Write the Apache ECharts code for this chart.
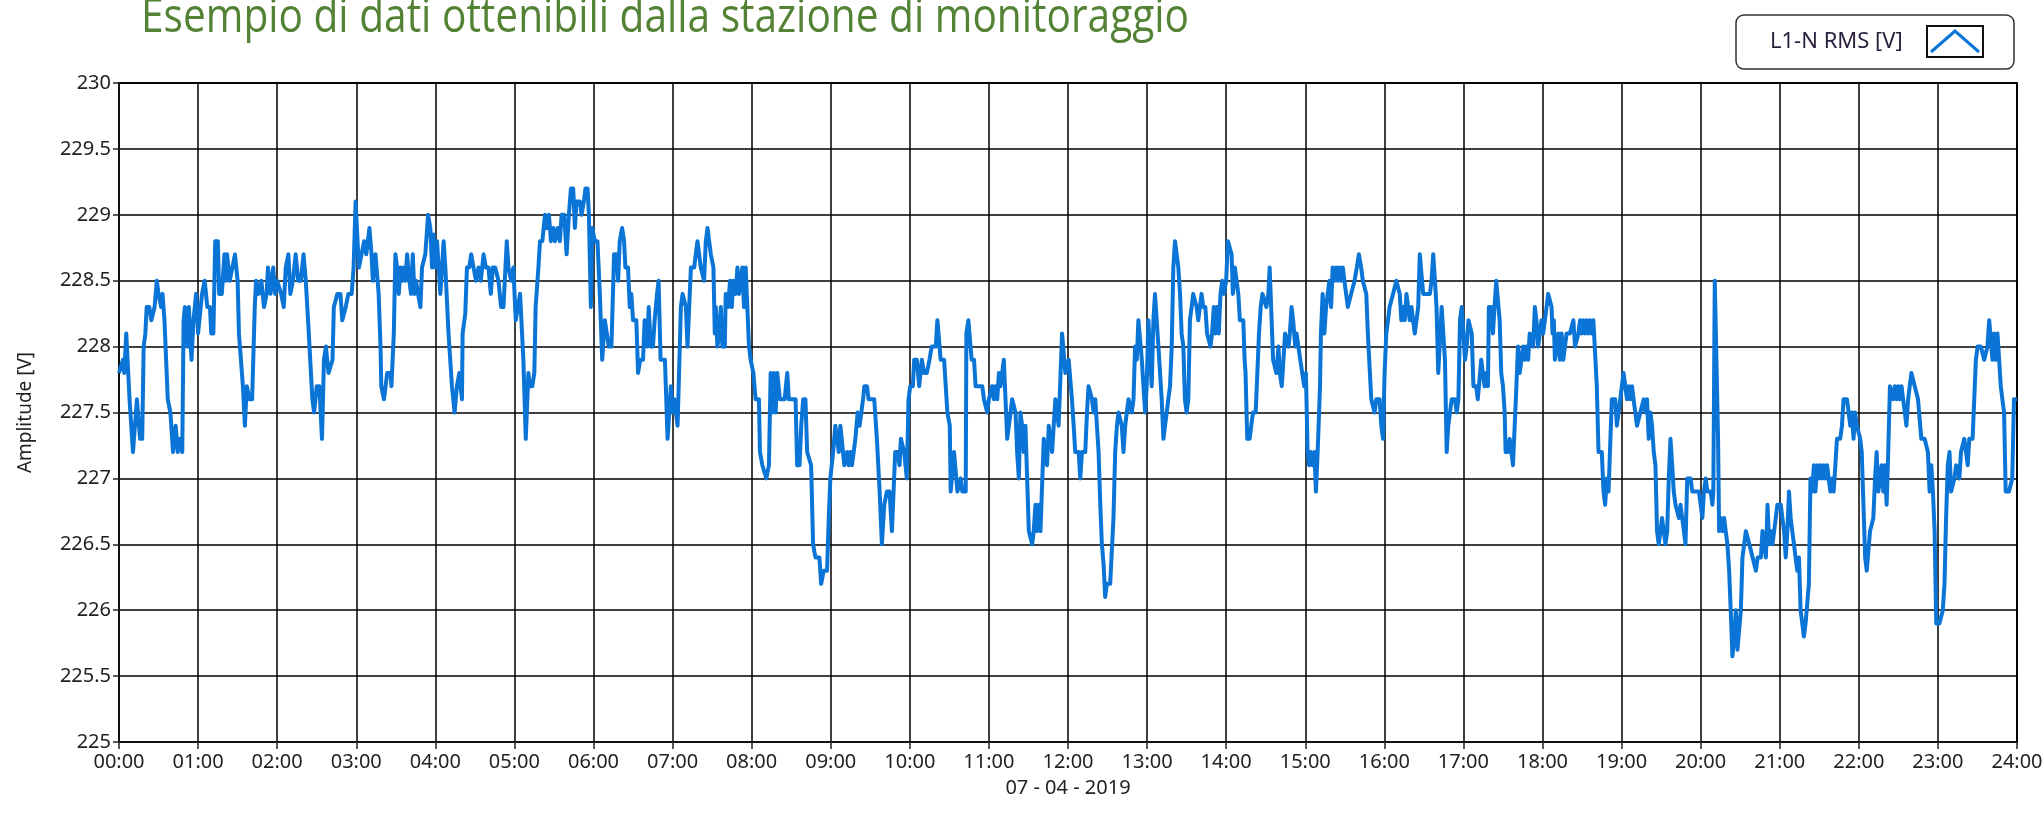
<!DOCTYPE html>
<html>
<head>
<meta charset="utf-8">
<script src="https://cdn.jsdelivr.net/npm/echarts@6/dist/echarts.min.js"></script>
<style>
html,body{margin:0;padding:0;background:#fff;}
#chart{width:2044px;height:819px;}
</style>
</head>
<body>
<div id="chart"></div>
<script>
// tempo in minuti dalla mezzanotte, tensione L1-N in V
var minutes = [
  // 00:00 - 03:26
  0,3,4,5.5,7,8,10.6,12,13.6,15,
  16,17.6,18.7,20,21,23,24.5,27,28.7,30,
  32,33,34.5,36,37,39,41,43,44.6,46,
  48,49,50,52,53,55,56.5,58.5,60,61.5,
  63,65,67,69,70,71.6,73,75,76,78,
  80,81,82,84,86,88,90,91,94,95.5,
  97,99,101,103,104,106,108,110,112,113,
  115,117,118.5,120,123,125,126.5,128.5,130,132,
  134,136,138,140,141.7,144,146.7,148,150,152,
  154,155.5,157,159,162,163,165.7,168,169.4,172,
  174,176.5,178,179.5,180.8,182,184,186,187.6,190,
  191.6,192.6,194.6,196,197,198.4,199,201,203.5,206,
  // 03:26 - 06:51
  206.7,208.5,209.7,211,212.3,213.5,214.8,216,217.3,218.6,
  220.3,221.6,222.9,224.1,225.4,226.9,228.7,229.9,231.2,232.4,
  234.5,236.2,237.5,238.7,240,241.3,242.5,243.8,245,246.3,
  247.6,250,252.6,254.6,256.4,258.2,260.2,260.7,262.7,264,
  265.7,267.2,269,270.8,272.8,274.5,276.6,278.3,280.3,282.1,
  283.6,285.4,287.9,289.9,291.7,294.2,295.5,297.5,299.2,301,
  302.5,304.3,305.5,306.8,308.6,309.8,310.6,311.8,313.6,315.1,
  316.1,318.2,319.4,321.2,323.2,324.5,326.2,327.7,329.5,330.8,
  332.8,334.5,335.8,337.8,339.6,341.3,342.9,344.6,345.9,347.1,
  349.7,350.9,352.7,353.9,355.5,356.5,358,359,361,363,
  364.8,366.6,368.6,370.1,371.6,373.6,375.6,377.4,378.7,379.9,
  381.7,383.2,384.2,386.2,387.5,388.7,390,392.5,393.8,395.5,
  397.6,398.8,400.6,401.9,403.4,405.1,406.4,408.2,409.4,410.9,
  // 06:54 - 10:17
  414.2,416.2,417.5,418.7,420,421.3,422.5,423.8,425,426.3,
  427.6,428.8,430.1,431.3,432.6,433.9,435.1,436.4,437.6,438.9,
  440.2,441.4,442.7,443.9,445.2,446.5,447.7,449,451,452,
  452.8,454,455.3,456.6,457.8,459.6,460.3,462.1,463.6,464.9,
  466.1,467.9,469.2,470.4,471.7,472.9,474.2,475.5,476.7,478,
  479.2,481.3,483,484.3,485.5,486.3,488.1,489.3,491.1,493.1,
  494.4,495.6,496.9,498.2,499.4,501.4,503.2,505,507,508.2,
  510,511.5,513.3,514.5,516.3,517.6,519.1,520.8,522.1,523.4,
  525.1,526.6,528.4,529.7,531.4,532.7,534.7,537.2,538.5,539.7,
  541.8,542.8,543.5,544.8,546.1,547.3,548.6,550.3,552.4,553.6,
  554.9,556.1,557.4,558.7,560.4,561.9,562.9,564.5,565.5,567.5,
  568.7,571.3,573,575,577.1,578.8,580.6,582.6,584.6,586.4,
  587.6,588.9,590.7,592.2,593.2,594.7,595.7,597.7,599,600.3,
  602.3,603.3,605.3,607.1,609.1,610.8,612.9,614.9,616.6,
  // 10:20 - 13:43
  619.7,620.9,622.2,623.4,624.7,626,627.2,628.5,630.3,631,
  632.3,633.5,634.8,636.1,637.3,638.6,639.8,641.1,642.4,642.9,
  644.4,645.6,646.9,648.7,649.9,652.4,655,656.2,658.7,660,
  661.3,662.5,663.8,665,666.3,667.6,668.8,670.1,671.3,672.6,
  673.9,675.1,676.4,677.6,678.9,680.2,681.4,682.7,683.9,685.2,
  686.5,687.7,689,690.3,691.5,692.8,694,695.3,696.6,697.8,
  699.1,700.3,701.6,702.9,704.1,705.4,706.6,707.9,709.2,710.4,
  711.7,712.9,714.2,715.5,716.7,718,719.2,720.5,721.8,723,
  724.3,725.5,726.8,728.1,729.3,730.6,731.8,733.1,734.4,735.6,
  736.9,738.2,739.4,740.7,741.9,743.2,744.5,745.7,747,748.2,
  749.5,750.8,752,753.3,754.5,755.8,757.1,758.3,759.6,760.8,
  762.1,763.4,764.6,765.9,767.1,768.4,769.7,770.9,772.2,773.4,
  774.7,776,777.2,778.5,779.7,781,782.3,783.5,784.8,786,
  787.3,788.6,789.8,791.1,792.4,793.6,794.9,796.1,797.4,798.7,
  799.9,801.2,802.4,803.7,805,806.2,807.5,808.7,810,811.3,
  812.5,813.8,815,816.3,817.6,818.8,820.1,821.3,822.6,
  // 13:44 - 17:09
  824.2,825.5,826.8,828.1,829.3,830.6,831.9,833.1,834.4,835.7,
  837,838.2,840,841.3,842.8,844.1,845.1,846.6,847.9,849.2,
  850.4,851.7,853,854,854.7,856,857.8,859.3,860.3,862.4,
  863.6,864.9,866.2,867.5,868.7,870.5,872,873,874.1,875.6,
  877.1,878.1,879.7,880.7,882.2,883.2,884.7,885.8,887.3,888.3,
  889.6,890.8,892.4,893.4,894.9,896.2,897.4,899.2,900.5,901.8,
  903,904.3,905.6,906.9,908.1,909.4,911.2,911.9,913.2,914.5,
  915.8,917,918.3,919.6,920.8,922.1,923.4,924.6,925.9,927.2,
  928.5,929.7,931,932.3,933.5,934.8,937.4,939.1,940.7,942.4,
  943.7,946.3,947.5,948.8,950.1,951.3,952.6,953.9,955.2,956.4,
  957.7,959,960.2,961.5,962.8,964,965.3,966.6,967.9,969.1,
  970.4,971.7,972.9,974.2,975.5,976.8,978,979.3,980.6,981.8,
  983.1,984.4,985.7,986.9,988.2,989.5,990.7,992,993.3,994.6,
  995.8,997.1,998.4,999.6,1000.9,1002.2,1003.5,1004.7,1006,1007.3,
  1008.5,1009.8,1011.1,1012.3,1013.6,1014.9,1016.2,1017.4,1018.7,1020,
  1021.2,1022.5,1023.8,1025,1026.3,1027.6,1028.9,
  // 17:10 - 20:34
  1029.7,1030.9,1032.2,1033.5,1034.8,1036,1037.3,1038.6,1039.3,1041.1,
  1042.4,1043.6,1044.9,1046.2,1047.5,1048.7,1050,1051.3,1052,1053.8,
  1055.1,1056.4,1057.6,1058.9,1060.2,1061.4,1062.7,1064,1065.3,1066.5,
  1067.8,1069.1,1070.3,1071.6,1072.9,1074.2,1075.4,1076.7,1078,1079.2,
  1080.5,1083.1,1084.3,1085.6,1086.9,1087.6,1088.6,1089.4,1090.7,1091.9,
  1093.2,1094.5,1095.8,1097,1098.3,1099.6,1100.8,1102.1,1103.4,1104.7,
  1105.9,1107.2,1108.5,1109.7,1111,1112.3,1113.6,1114.8,1116.1,1117.4,
  1118.6,1119.9,1121.2,1122.5,1123.7,1125,1126.3,1127.5,1128.8,1130.1,
  1131.3,1132.6,1133.9,1135.2,1136.4,1137.7,1139,1140.2,1141.5,1142.8,
  1144.1,1145.3,1146.6,1147.9,1149.1,1150.4,1151.7,1153,1154.2,1155.5,
  1156.8,1158,1159.3,1160.6,1161.9,1163.1,1164.4,1165.7,1166.9,1168.2,
  1169.5,1170.7,1172,1173.3,1174.6,1175.8,1177.1,1178.4,1179.6,1180.9,
  1182.2,1183.5,1184.7,1186,1187.3,1188.5,1189.8,1191.1,1192.4,1193.6,
  1194.9,1196.2,1197.4,1198.7,1200,1201.3,1202.5,1203.8,1205.1,1206.3,
  1207.6,1208.9,1209.6,1210.7,1212.2,1213.2,1214,1215.2,1216.5,1217.8,
  1219,1220.3,1221.6,1222.8,1224.1,1225.4,1226.7,1227.9,1229.2,1230.5,
  1231.7,1233,1234.3,
  // 20:35 - 24:00
  1235.6,1236.9,1238.2,1239.4,1240.7,1241.9,1243.2,1244.4,1245.7,1246.9,
  1248.2,1249.5,1250.7,1252,1253.2,1254.5,1255.7,1257,1258.2,1259.5,
  1260.8,1262,1263.3,1264.5,1265.8,1267,1268.3,1269.5,1270.8,1272,
  1273.3,1274.6,1275.8,1277.1,1278.3,1279.6,1280.8,1282.1,1283.3,1284.6,
  1285.9,1287.1,1288.4,1289.6,1290.9,1292.1,1293.4,1294.6,1295.9,1297.1,
  1298.4,1299.7,1300.9,1302.2,1303.4,1304.7,1305.9,1307.2,1308.4,1309.7,
  1311,1312.2,1313.5,1314.7,1316,1317.2,1318.5,1319.7,1321,1322.2,
  1323.5,1324.8,1326,1327.3,1328.5,1329.8,1331,1332.3,1333.5,1334.8,
  1336.1,1337.3,1338.6,1339.8,1341.1,1342.3,1343.6,1344.8,1346.1,1347.3,
  1348.6,1349.9,1351.1,1352.4,1353.6,1354.9,1356.1,1357.4,1358.6,1359.9,
  1361.2,1362.4,1363.7,1364.9,1366.2,1367.4,1368.7,1369.9,1371.2,1372.4,
  1373.7,1375,1376.2,1377.5,1378.7,1380,1381.2,1382.5,1383.7,1385,
  1386.2,1387.5,1388.8,1390,1391.3,1392.5,1393.8,1395,1396.3,1397.5,
  1398.8,1400,1401.3,1402.6,1403.8,1405.1,1406.3,1407.6,1408.8,1410.1,
  1411.3,1412.6,1413.9,1415.1,1416.4,1417.6,1418.9,1420.1,1421.4,1422.6,
  1423.9,1425.2,1426.4,1427.7,1428.9,1430.2,1431.4,1432.7,1433.9,1435.2,
  1436.4,1437.7,1438.9,1440
];

var volts = [
  // 00:00 - 03:26
  227.8,227.9,227.8,228.1,228.1,227.6,227.2,227.2,227.6,227.6,
  227.3,227.3,228.0,228.1,228.3,228.3,228.2,228.3,228.5,228.4,
  228.3,228.4,228.2,228.2,227.6,227.5,227.2,227.4,227.2,227.3,
  227.2,228.2,228.3,228.0,228.3,227.9,228.2,228.4,228.1,228.1,
  228.4,228.5,228.3,228.3,228.1,228.1,228.8,228.8,228.4,228.4,
  228.7,228.5,228.7,228.5,228.6,228.7,228.5,228.1,227.7,227.4,
  227.7,227.6,227.6,228.3,228.5,228.4,228.5,228.3,228.4,228.6,
  228.4,228.6,228.4,228.5,228.4,228.3,228.6,228.7,228.4,228.5,
  228.7,228.5,228.5,228.7,228.5,228.1,227.6,227.5,227.7,227.7,
  227.3,227.9,228.0,227.8,227.9,228.3,228.4,228.4,228.2,228.3,
  228.4,228.4,228.6,229.1,229.1,228.6,228.7,228.8,228.7,228.9,
  228.7,228.5,228.7,228.7,228.4,228.0,227.7,227.6,227.8,227.8,
  // 03:26 - 06:51
  227.7,228.1,228.7,228.6,228.4,228.6,228.5,228.6,228.5,228.7,
  228.5,228.4,228.7,228.4,228.5,228.4,228.3,228.6,228.6,228.7,
  229.0,228.9,228.6,228.85,228.6,228.8,228.6,228.4,228.4,228.8,
  228.6,228.1,227.7,227.5,227.7,227.8,227.6,228.1,228.25,228.6,
  228.6,228.7,228.6,228.5,228.6,228.5,228.7,228.6,228.6,228.4,
  228.6,228.6,228.5,228.3,228.3,228.8,228.6,228.5,228.6,228.2,
  228.2,228.4,228.4,227.9,227.3,227.3,227.8,227.7,227.7,227.8,
  228.3,228.6,228.8,228.8,229.0,228.9,229.0,228.8,228.9,228.8,
  228.9,228.8,229.0,229.0,228.7,229.0,229.2,229.2,228.9,229.1,
  229.1,229.0,229.1,229.2,229.2,229.0,228.3,228.9,228.8,228.8,
  228.4,227.9,228.2,228.2,228.0,228.0,228.7,228.7,228.5,228.8,
  228.9,228.8,228.6,228.6,228.3,228.4,228.2,228.2,227.8,227.9,
  227.9,228.2,228.0,228.3,228.0,228.0,228.2,228.4,228.5,227.9,
  // 06:54 - 10:17
  227.9,227.3,227.3,227.7,227.5,227.6,227.6,227.4,227.4,228.3,
  228.4,228.4,228.3,228.0,228.0,228.6,228.6,228.6,228.7,228.8,
  228.8,228.6,228.6,228.5,228.8,228.9,228.9,228.7,228.6,228.1,
  228.3,228.0,228.1,228.3,228.0,228.0,228.4,228.3,228.5,228.3,
  228.5,228.4,228.6,228.4,228.4,228.6,228.3,228.6,228.3,228.0,
  227.9,227.8,227.6,227.6,227.6,227.2,227.1,227.1,227.0,227.1,
  227.8,227.5,227.8,227.5,227.8,227.6,227.6,227.6,227.8,227.6,
  227.6,227.6,227.6,227.1,227.1,227.4,227.6,227.6,227.2,227.2,
  227.1,226.5,226.4,226.4,226.4,226.2,226.3,226.3,226.7,227.0,
  227.2,227.2,227.4,227.4,227.2,227.4,227.4,227.1,227.2,227.1,
  227.2,227.1,227.2,227.3,227.5,227.4,227.4,227.6,227.7,227.7,
  227.6,227.6,227.6,227.3,226.9,226.5,226.8,226.9,226.9,226.6,
  226.6,227.2,227.2,227.1,227.3,227.3,227.2,227.0,227.6,227.7,
  227.7,227.9,227.9,227.7,227.9,227.8,227.8,227.9,228.0,
  // 10:20 - 13:43
  228.0,228.2,228.2,227.9,227.9,227.9,227.9,227.5,227.4,226.9,
  226.9,227.2,227.2,226.9,226.9,227.0,226.9,226.9,226.9,228.1,
  228.2,228.2,227.9,227.9,227.7,227.7,227.7,227.6,227.5,227.6,
  227.6,227.7,227.6,227.7,227.6,227.8,227.7,227.8,227.9,227.6,
  227.3,227.3,227.5,227.6,227.6,227.5,227.2,227.0,227.5,227.4,
  227.2,227.4,227.4,226.6,226.6,226.5,226.6,226.8,226.6,226.8,
  226.6,226.6,227.3,227.3,227.1,227.4,227.4,227.2,227.2,227.6,
  227.6,227.4,227.4,228.1,228.1,227.8,227.8,227.9,227.9,227.6,
  227.4,227.2,227.2,227.2,227.0,227.2,227.2,227.2,227.5,227.7,
  227.7,227.6,227.5,227.6,227.6,227.2,226.8,226.5,226.35,226.1,
  226.2,226.2,226.2,226.2,226.7,227.2,227.4,227.5,227.5,227.4,
  227.2,227.4,227.5,227.6,227.6,227.5,227.6,228.0,227.9,228.2,
  228.2,227.9,227.9,227.5,227.7,228.2,228.2,227.7,228.2,228.4,
  228.4,228.0,228.0,227.6,227.3,227.3,227.5,227.6,227.7,228.0,
  228.6,228.8,228.8,228.6,228.4,228.1,228.0,227.6,227.5,227.6,
  228.2,228.3,228.4,228.4,228.3,228.2,228.3,228.4,228.3,
  // 13:44 - 17:09
  228.3,228.1,228.1,228.0,228.1,228.3,228.1,228.3,228.1,228.4,
  228.5,228.4,228.5,228.8,228.8,228.7,228.4,228.6,228.6,228.4,
  228.2,228.2,228.2,227.9,227.8,227.3,227.3,227.3,227.5,227.5,
  227.5,228.1,228.3,228.4,228.4,228.3,228.4,228.6,228.6,227.9,
  227.9,227.8,228.0,227.8,227.7,227.7,228.1,228.1,228.0,228.1,
  228.3,228.2,228.0,228.1,228.1,227.9,227.9,227.7,227.8,227.2,
  227.1,227.2,227.1,227.2,226.9,227.2,227.7,228.1,228.4,228.1,
  228.3,228.3,228.5,228.3,228.6,228.5,228.6,228.5,228.6,228.5,
  228.6,228.5,228.4,228.3,228.3,228.4,228.5,228.6,228.7,228.6,
  228.5,228.4,228.1,228.1,227.6,227.6,227.5,227.6,227.6,227.6,
  227.4,227.3,227.8,228.1,228.2,228.3,228.3,228.4,228.4,228.5,
  228.5,228.4,228.2,228.3,228.2,228.4,228.3,228.2,228.3,228.2,
  228.1,228.1,228.3,228.7,228.7,228.4,228.4,228.4,228.4,228.4,
  228.5,228.7,228.5,228.3,227.8,227.8,228.3,228.3,227.9,227.2,
  227.4,227.5,227.6,227.6,227.6,227.5,227.6,228.2,228.3,228.3,
  227.9,228.0,228.2,228.2,228.1,227.7,227.7,
  // 17:10 - 20:34
  227.7,227.6,227.6,227.9,227.8,227.7,227.8,227.7,228.3,228.3,
  228.1,228.3,228.5,228.5,228.2,227.8,227.7,227.5,227.2,227.2,
  227.3,227.2,227.1,227.1,227.7,228.0,227.8,227.9,228.0,227.9,
  228.0,227.9,228.1,228.1,228.0,228.3,228.2,228.0,228.1,228.2,
  228.1,228.3,228.4,228.4,228.3,228.1,228.2,227.9,228.0,228.1,
  227.9,228.1,227.9,228.0,228.1,228.1,228.1,228.1,228.2,228.0,
  228.0,228.1,228.2,228.1,228.2,228.1,228.2,228.1,228.2,228.1,
  228.2,228.2,227.7,227.2,227.2,227.2,226.9,226.8,227.0,226.9,
  226.9,227.6,227.6,227.6,227.4,227.4,227.6,227.7,227.8,227.8,
  227.6,227.7,227.6,227.7,227.6,227.6,227.4,227.4,227.5,227.5,
  227.6,227.5,227.6,227.3,227.5,227.4,227.2,227.1,226.6,226.5,
  226.6,226.7,226.7,226.5,226.6,227.0,227.3,227.1,226.9,226.8,
  226.8,226.7,226.8,226.7,226.6,226.5,227.0,227.0,227.0,226.9,
  226.9,226.9,226.9,226.9,226.8,226.7,226.9,227.0,226.9,226.9,
  226.9,226.8,226.9,228.5,228.5,227.3,226.6,226.7,226.6,226.7,
  226.6,226.5,226.3,226.0,225.65,225.8,226.0,225.7,225.7,226.0,
  226.4,226.4,226.6,
  // 20:35 - 24:00
  226.6,226.5,226.45,226.4,226.4,226.3,226.4,226.4,226.4,226.6,
  226.6,226.4,226.8,226.5,226.6,226.5,226.6,226.7,226.8,226.8,
  226.8,226.7,226.6,226.4,226.6,226.9,226.7,226.6,226.5,226.4,
  226.3,226.4,226.0,225.9,225.8,225.9,225.9,226.2,227.0,226.9,
  227.1,226.9,227.1,227.0,227.1,227.0,227.1,227.0,227.1,227.0,
  226.9,227.0,226.9,227.1,227.3,227.3,227.3,227.4,227.6,227.6,
  227.6,227.6,227.4,227.5,227.3,227.5,227.4,227.4,227.3,227.2,
  226.8,226.4,226.3,226.3,226.6,226.6,226.7,227.0,227.2,226.9,
  226.9,227.1,226.9,227.1,226.8,227.2,227.7,227.7,227.6,227.7,
  227.6,227.7,227.6,227.7,227.6,227.5,227.4,227.6,227.7,227.8,
  227.8,227.7,227.7,227.6,227.6,227.3,227.3,227.3,227.3,227.2,
  226.9,227.1,226.9,226.6,225.9,225.9,225.9,225.9,226.0,226.2,
  226.7,227.1,227.2,226.9,226.9,227.0,227.1,227.1,227.0,227.2,
  227.2,227.3,227.3,227.1,227.3,227.3,227.3,227.3,227.9,228.0,
  228.0,228.0,228.0,227.9,227.9,228.0,228.2,228.2,227.9,228.1,
  227.9,228.1,228.1,227.7,227.6,227.5,226.9,226.9,226.9,226.9,
  227.0,227.6,227.6,227.6
];

var hourLabels = ['00:00','01:00','02:00','03:00','04:00','05:00','06:00','07:00','08:00',
  '09:00','10:00','11:00','12:00','13:00','14:00','15:00','16:00','17:00','18:00',
  '19:00','20:00','21:00','22:00','23:00','24:00'];
var titleText = 'Esempio di dati ottenibili dalla stazione di monitoraggio';
var seriesName = 'L1-N RMS [V]';
var dateLabel = '07 - 04 - 2019';
var axisName = 'Amplitude [V]';

var lineColor = '#0a75d6';
var labelFont = 'Noto Sans';

var points = minutes.map(function (m, i) { return [m, volts[i]]; });

// larghezza del titolo come nell'originale (font tipo Calibri, piu' stretto)
var titleFont = '48px "Open Sans"';
var ctx = document.createElement('canvas').getContext('2d');
ctx.font = titleFont;
var titleScale = 1048 / ctx.measureText(titleText).width;

var chart = echarts.init(document.getElementById('chart'));
chart.setOption({
    animation: false,
    backgroundColor: '#fff',
    grid: {
        left: 119, right: 27, top: 83, bottom: 77,
        show: true, borderColor: '#111', borderWidth: 2,
        containLabel: false, outerBoundsMode: 'none'
    },
    xAxis: {
        type: 'value', min: 0, max: 1440, interval: 60,
        name: dateLabel, nameLocation: 'middle', nameGap: 36,
        nameTextStyle: {fontFamily: labelFont, fontSize: 20, color: '#222'},
        axisLine: {lineStyle: {color: '#111', width: 2}},
        axisTick: {show: true, length: 7, lineStyle: {color: '#222', width: 1.5}},
        axisLabel: {
            margin: 10, fontFamily: labelFont, fontSize: 20, color: '#222',
            formatter: function (v) { return hourLabels[Math.round(v / 60)]; }
        },
        splitLine: {show: true, lineStyle: {color: '#000', width: 1.5}}
    },
    yAxis: {
        type: 'value', min: 225, max: 230, interval: 0.5,
        name: axisName, nameLocation: 'middle', nameGap: 84, nameRotate: 90,
        nameTextStyle: {fontFamily: labelFont, fontSize: 19, color: '#222'},
        axisLine: {show: true, lineStyle: {color: '#111', width: 2}},
        axisTick: {show: true, length: 6, lineStyle: {color: '#222', width: 1.5}},
        axisLabel: {margin: 8, fontFamily: labelFont, fontSize: 20, color: '#222'},
        splitLine: {show: true, lineStyle: {color: '#000', width: 1.5}}
    },
    series: [{
        name: seriesName,
        type: 'line',
        data: points,
        showSymbol: false,
        sampling: null,
        lineStyle: {color: lineColor, width: 4, join: 'round'},
        itemStyle: {color: lineColor},
        z: 3
    }],
    graphic: [
        {
            type: 'text', x: 141, y: 18, scaleX: titleScale,
            style: {text: titleText, font: titleFont, fill: '#548235', verticalAlign: 'middle'}
        },
        {
            type: 'rect', shape: {x: 1736, y: 15, width: 278, height: 54, r: 8},
            style: {fill: '#fff', stroke: '#333', lineWidth: 1.5}
        },
        {
            type: 'text', x: 1770, y: 42,
            style: {text: seriesName, font: '22px "Noto Sans"', fill: '#2a1f3d', verticalAlign: 'middle'}
        },
        {
            type: 'rect', shape: {x: 1927, y: 26, width: 56, height: 31},
            style: {fill: '#fff', stroke: '#111', lineWidth: 2}
        },
        {
            type: 'polyline', shape: {points: [[1931, 52], [1955, 31], [1979, 52]]},
            style: {fill: null, stroke: lineColor, lineWidth: 3}
        }
    ]
});
</script>
</body>
</html>
